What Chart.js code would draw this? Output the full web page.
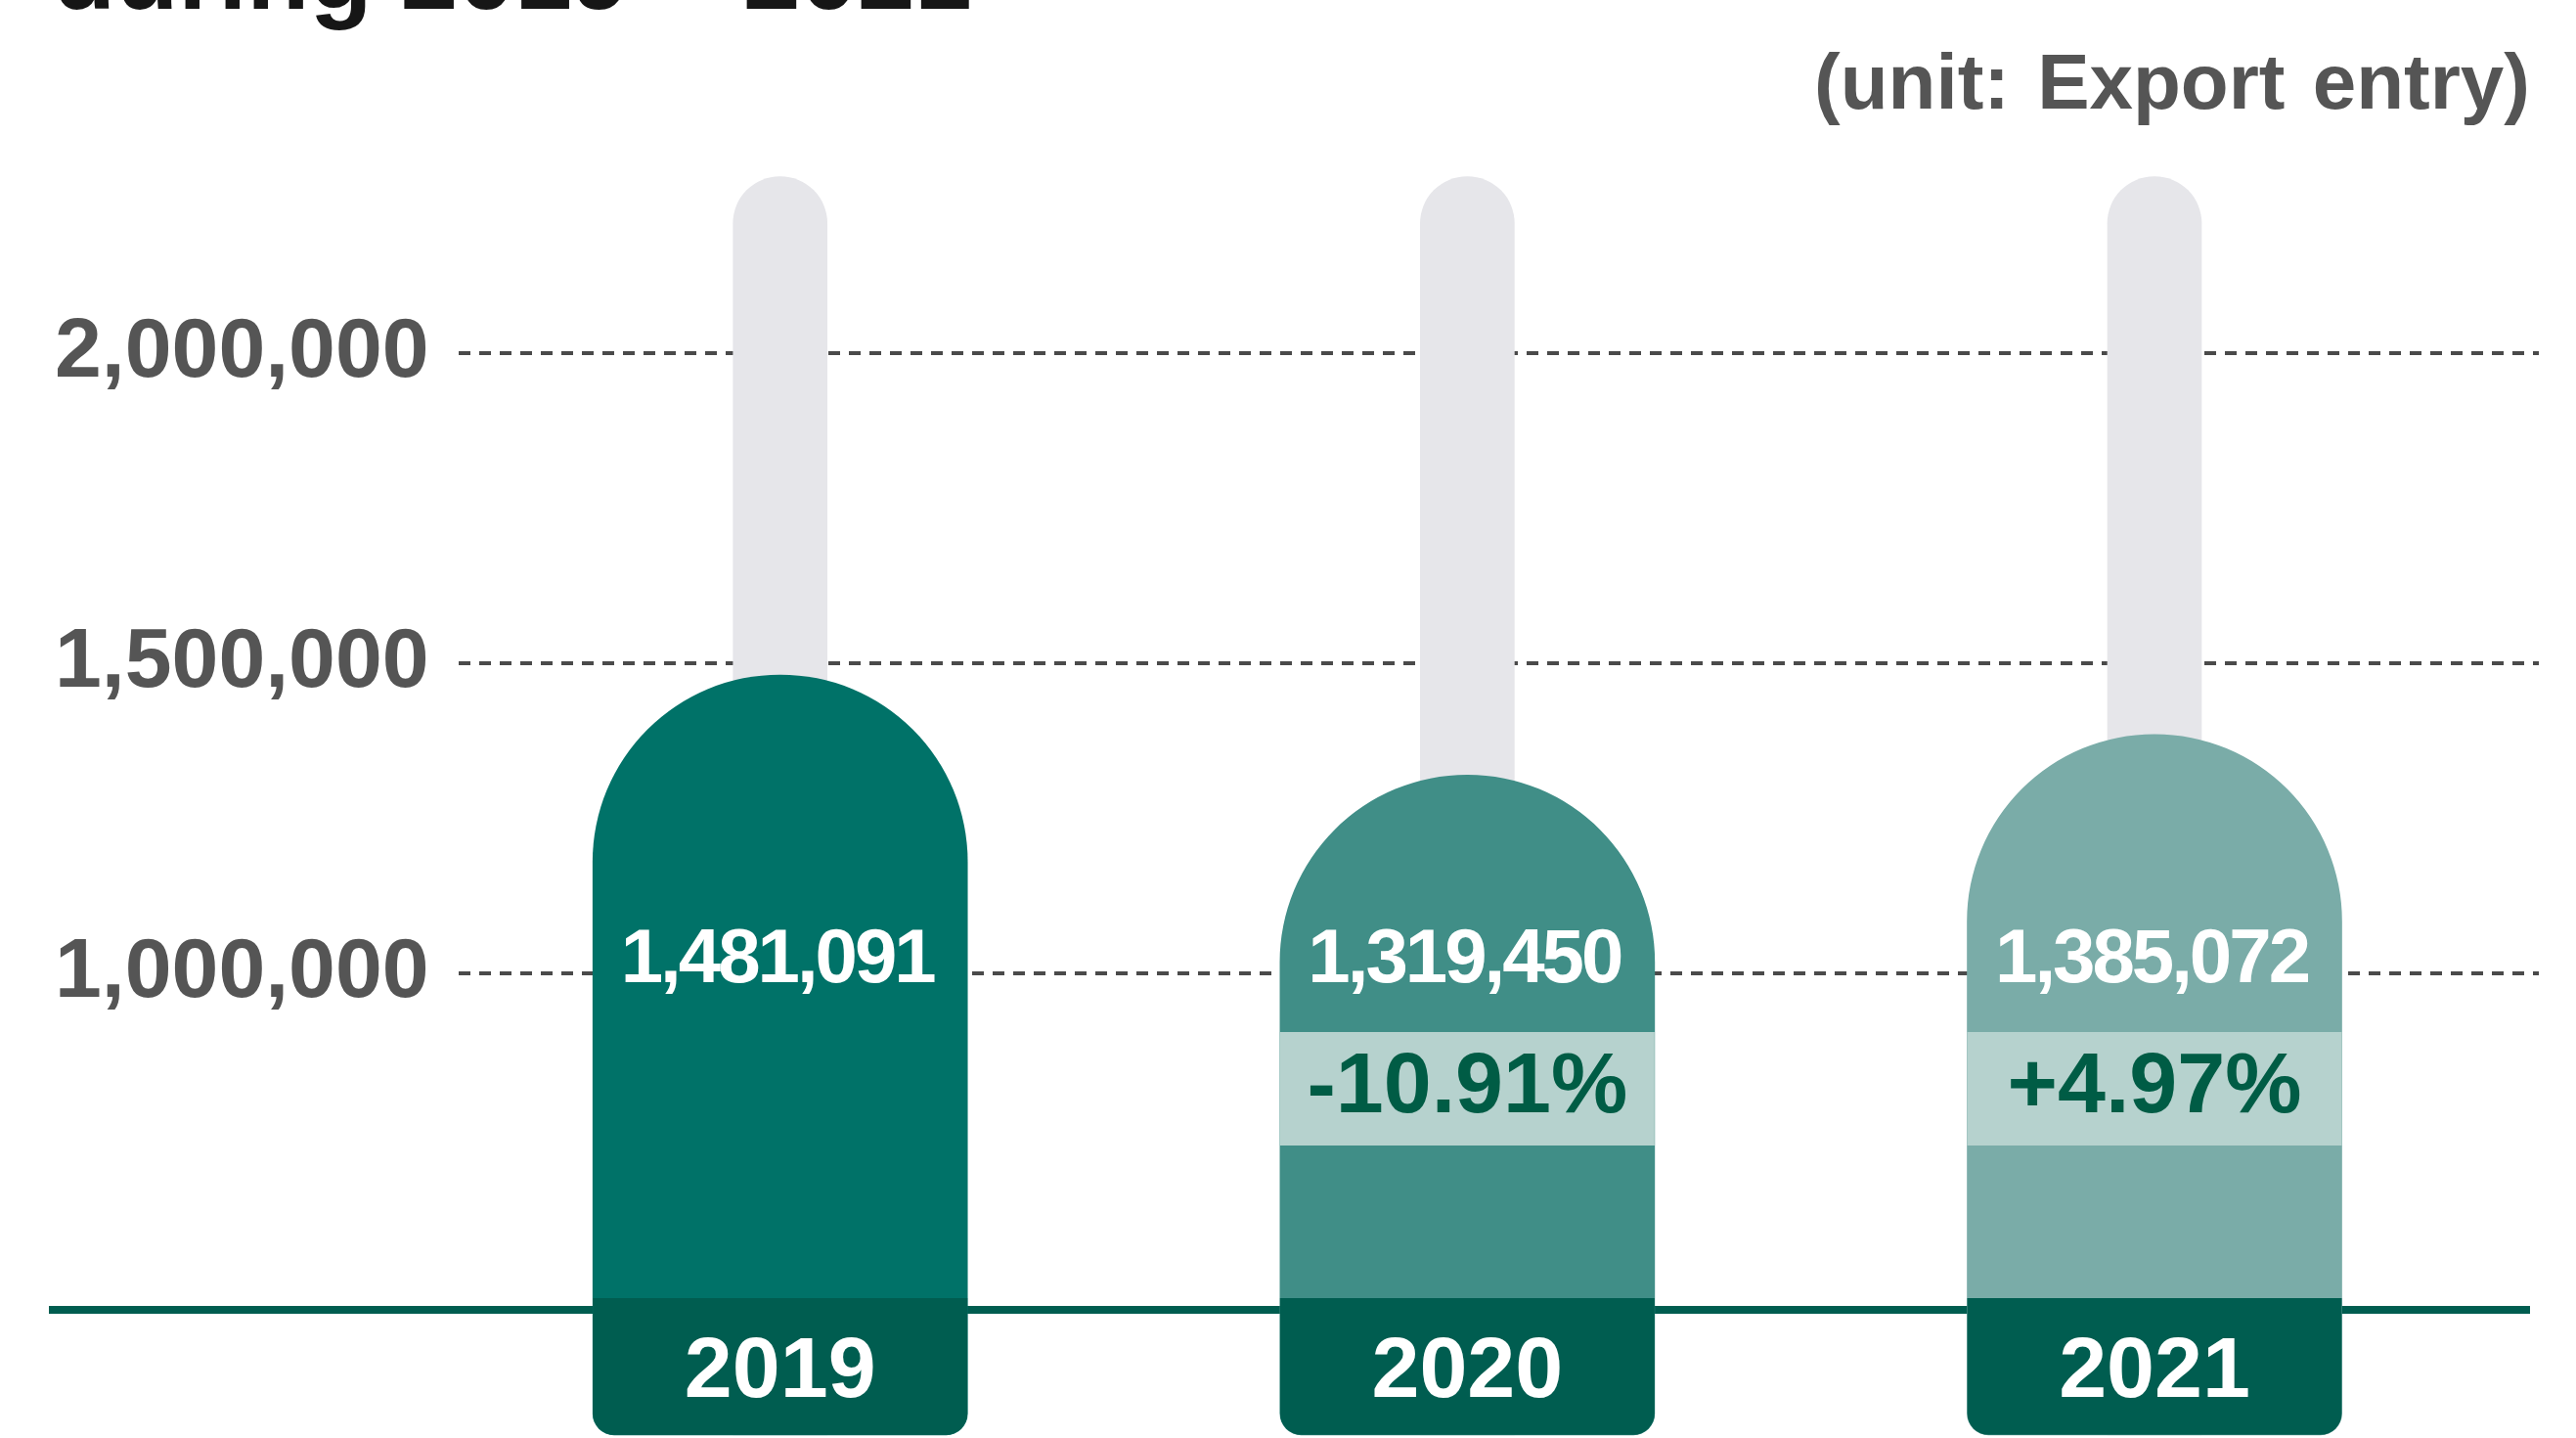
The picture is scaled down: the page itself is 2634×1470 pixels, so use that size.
<!DOCTYPE html>
<html>
<head>
<meta charset="utf-8">
<script src="https://cdn.jsdelivr.net/npm/chart.js@4.4.1/dist/chart.umd.min.js"></script>
<style>
  body { margin: 0; background: #fff; overflow: hidden; }
  #wrap { position: relative; width: 2634px; height: 1470px; }
  canvas { position: absolute; left: 0; top: 0; }
  .title { position: absolute; left: 54px; top: -80px; font: bold 105px "Liberation Sans", Arial, sans-serif; line-height: 1; color: #161616; white-space: nowrap; }
  .unit { position: absolute; right: 47px; top: 44px; font: bold 80px "Liberation Sans", Arial, sans-serif; line-height: 1; color: #555; word-spacing: 6px; white-space: nowrap; }
</style>
</head>
<body>
<div id="wrap">
  <canvas id="myChart" width="2634" height="1470"></canvas>
  <div class="title">during 2019 – 2021</div>
  <div class="unit">(unit: Export entry)</div>
</div>
<script>
// data
const years = ['2019', '2020', '2021'];
const exportEntries = [1481091, 1319450, 1385072];
const changePct = [null, -10.91, 4.97];
const trackValues = [2285000, 2285000, 2285000];
const yTicks = [1000000, 1500000, 2000000];

const barColors = ['#007268', '#408e87', '#7aaca8'];
const font = '"Liberation Sans", Arial, sans-serif';

// vertical layout of the labels / bands inside the bars (px)
const VALUE_Y = 982;
const PCT_TOP = 1055, PCT_BOTTOM = 1171, PCT_Y = 1113;
const YEAR_BAND_TOP = 1327, YEAR_Y = 1404;
const BASELINE_Y = 1339;

const barDecor = {
  id: 'barDecor',
  beforeDatasetsDraw(chart) {
    const ctx = chart.ctx;
    ctx.save();
    ctx.strokeStyle = '#005d50';
    ctx.lineWidth = 8;
    ctx.beginPath();
    ctx.moveTo(50, BASELINE_Y);
    ctx.lineTo(chart.chartArea.right - 9, BASELINE_Y);
    ctx.stroke();
    ctx.restore();
  },
  afterDatasetsDraw(chart) {
    const ctx = chart.ctx;
    const meta = chart.getDatasetMeta(0);
    ctx.save();
    meta.data.forEach((bar, i) => {
      const p = bar.getProps(['x', 'width', 'base'], true);
      const left = p.x - p.width / 2;

      // year band at the bottom
      ctx.fillStyle = '#005d50';
      ctx.beginPath();
      ctx.roundRect(left, YEAR_BAND_TOP, p.width, p.base - YEAR_BAND_TOP, [0, 0, 22, 22]);
      ctx.fill();

      ctx.textAlign = 'center';
      ctx.textBaseline = 'middle';

      // change band
      if (changePct[i] !== null) {
        ctx.fillStyle = '#b6d2ce';
        ctx.fillRect(left, PCT_TOP, p.width, PCT_BOTTOM - PCT_TOP);
        ctx.fillStyle = '#005c45';
        ctx.font = 'bold 88px ' + font;
        const v = changePct[i];
        ctx.fillText((v > 0 ? '+' : '') + v.toFixed(2) + '%', p.x, PCT_Y);
      }

      ctx.fillStyle = '#ffffff';
      ctx.font = 'bold 78px ' + font;
      ctx.letterSpacing = '-3px';
      ctx.fillText(exportEntries[i].toLocaleString('en-US'), p.x - 3, VALUE_Y);
      ctx.letterSpacing = '0px';

      ctx.font = 'bold 88px ' + font;
      ctx.fillText(years[i], p.x, YEAR_Y);
    });
    ctx.restore();
  }
};

const ctx = document.getElementById('myChart').getContext('2d');

var chart = new Chart(ctx, {
  type: 'bar',
  data: {
    datasets: [{
      label: 'Export entries',
      data: exportEntries.map((v, i) => ({x: i, y: v})),
      backgroundColor: barColors,
      base: 255000,
      barThickness: 383,
      grouped: false,
      borderSkipped: false,
      borderRadius: {topLeft: 192, topRight: 192, bottomLeft: 22, bottomRight: 22},
      order: 1
    }, {
      label: 'track',
      data: trackValues.map((v, i) => ({x: i, y: v})),
      backgroundColor: '#e6e6ea',
      base: 255000,
      barThickness: 96,
      grouped: false,
      borderSkipped: false,
      borderRadius: {topLeft: 48, topRight: 48, bottomLeft: 0, bottomRight: 0},
      order: 2
    }]
  },
  options: {
    responsive: false,
    animation: false,
    layout: {
      padding: {left: 26, right: 38, top: 0, bottom: 0}
    },
    plugins: {
      legend: {display: false},
      tooltip: {enabled: false}
    },
    scales: {
      x: {
        type: 'linear',
        offset: false,
        min: -0.4684,
        max: 2.5593,
        display: false
      },
      y: {
        min: 250000,
        max: 2570000,
        afterBuildTicks: (axis) => { axis.ticks = yTicks.map(v => ({value: v})); },
        afterFit: (axis) => { axis.paddingTop = 0; axis.paddingBottom = 0; },
        grid: {
          color: '#4a4a4a',
          lineWidth: 4,
          drawTicks: false
        },
        border: {display: false, dash: [12, 9]},
        ticks: {
          padding: 30,
          color: '#555',
          font: {family: font, size: 86, weight: 'bold'},
          callback: (v) => v.toLocaleString('en-US')
        }
      }
    }
  },
  plugins: [barDecor]
});
</script>
</body>
</html>
